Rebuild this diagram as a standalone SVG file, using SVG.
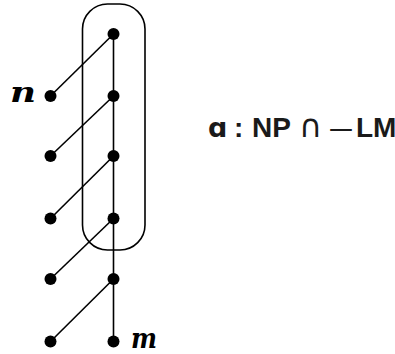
<svg xmlns="http://www.w3.org/2000/svg" width="395" height="354" viewBox="0 0 395 354">
<style>
.e{stroke:#000;stroke-width:1.6;fill:none}
.d{fill:#000}
.v{font-family:"DejaVu Serif","Liberation Serif",serif;font-style:italic;font-weight:bold;font-size:28px;fill:#000}
.t{font-family:"Liberation Sans","DejaVu Sans",sans-serif;font-weight:bold;font-size:28px;fill:#1a1a1a}
</style>
<rect width="395" height="354" fill="#fff"/>
<g id="connectors">
<rect class="e" x="82.5" y="4" width="62.5" height="246" rx="25" ry="25"/>
<line class="e" x1="113.5" y1="34" x2="113.5" y2="341.5"/>
<line class="e" x1="50.5" y1="96" x2="113.5" y2="34"/>
<line class="e" x1="50.5" y1="156" x2="113.5" y2="96"/>
<line class="e" x1="50.5" y1="218.5" x2="113.5" y2="156"/>
<line class="e" x1="50.5" y1="279" x2="113.5" y2="218.5"/>
<line class="e" x1="50.5" y1="341.5" x2="113.5" y2="279"/>
</g>
<g id="r1"><circle class="d" cx="113.5" cy="34" r="6"/></g>
<g id="r2"><circle class="d" cx="113.5" cy="96" r="6"/></g>
<g id="r3"><circle class="d" cx="113.5" cy="156" r="6"/></g>
<g id="r4"><circle class="d" cx="113.5" cy="218.5" r="6"/></g>
<g id="r5"><circle class="d" cx="113.5" cy="279" r="6"/></g>
<g id="r6"><circle class="d" cx="113.5" cy="341.5" r="6"/><text class="v" x="131" y="348" textLength="26" lengthAdjust="spacingAndGlyphs">m</text></g>
<g id="l1"><circle class="d" cx="50.5" cy="96" r="6"/><text class="v" x="10" y="102" textLength="26" lengthAdjust="spacingAndGlyphs">n</text></g>
<g id="l2"><circle class="d" cx="50.5" cy="156" r="6"/></g>
<g id="l3"><circle class="d" cx="50.5" cy="218.5" r="6"/></g>
<g id="l4"><circle class="d" cx="50.5" cy="279" r="6"/></g>
<g id="l5"><circle class="d" cx="50.5" cy="341.5" r="6"/></g>
<g id="label">
<text class="t" x="208" y="136.5" style="font-family:'DejaVu Sans',sans-serif;font-size:27px">ɑ</text>
<text class="t" x="234" y="136.5">:</text>
<text class="t" x="252" y="136.5">NP</text>
<text class="t" x="299" y="137" style="font-family:'DejaVu Sans',sans-serif;font-weight:normal;font-size:32px">∩</text>
<text class="t" x="328" y="138.5" style="font-weight:normal" textLength="26" lengthAdjust="spacingAndGlyphs">−</text>
<text class="t" x="356" y="136.5">LM</text>
</g>
</svg>
